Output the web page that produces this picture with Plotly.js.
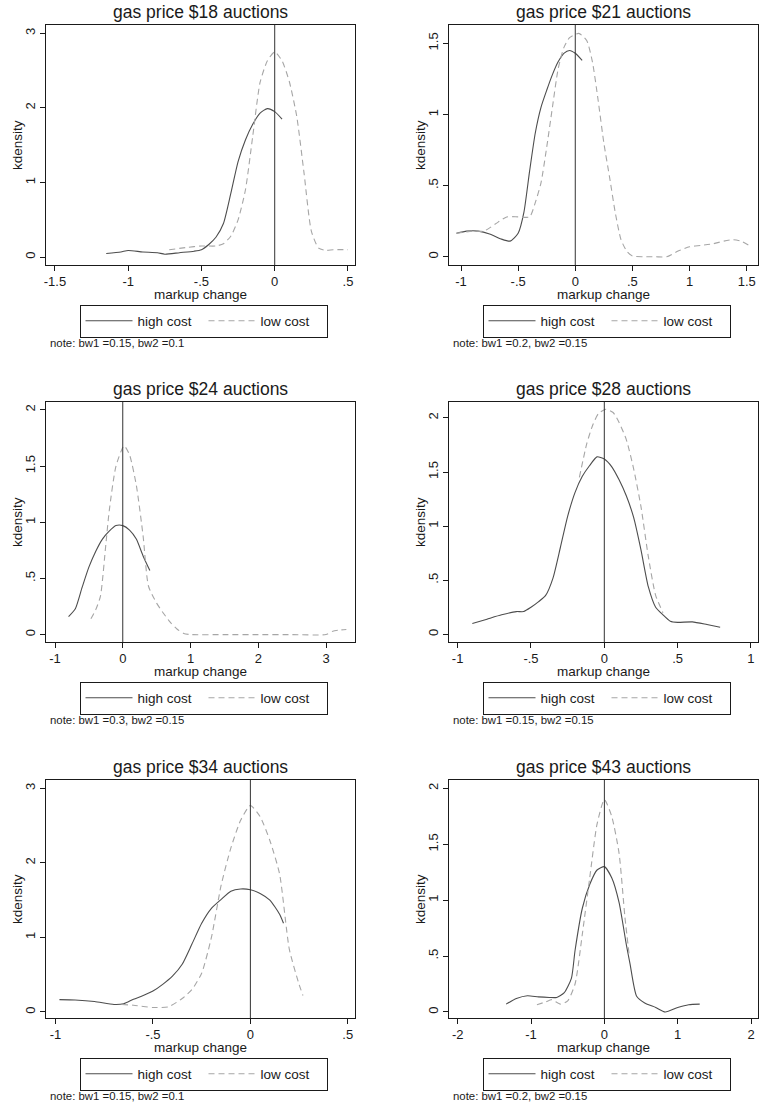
<!DOCTYPE html>
<html><head><meta charset="utf-8">
<script src="https://cdn.plot.ly/plotly-3.0.1.min.js"></script>
<style>html,body{margin:0;padding:0;background:#fff;} #chart{width:759px;height:1110px;}</style>
</head><body><div id="chart"></div>
<script>
// ---------- text ----------
const titles = ['gas price $18 auctions','gas price $21 auctions','gas price $24 auctions','gas price $28 auctions','gas price $34 auctions','gas price $43 auctions'];
const notes = ['note: bw1 =0.15, bw2 =0.1','note: bw1 =0.2, bw2 =0.15','note: bw1 =0.3, bw2 =0.15','note: bw1 =0.15, bw2 =0.15','note: bw1 =0.15, bw2 =0.1','note: bw1 =0.2, bw2 =0.15'];
const seriesNames = ['high cost','low cost'];
const xTitle = 'markup change';
const yTitle = 'kdensity';

// ---------- $18 ----------
const high18X = [-1.15,-1.05,-1.0,-0.9,-0.8,-0.75,-0.65,-0.55,-0.5,-0.45,-0.4,-0.35,-0.3,-0.25,-0.2,-0.15,-0.1,-0.05,0,0.05];
const high18Y = [0.05,0.07,0.09,0.07,0.06,0.04,0.06,0.08,0.1,0.17,0.27,0.45,0.85,1.28,1.57,1.78,1.93,1.99,1.95,1.85];
const low18X = [-0.72,-0.6,-0.5,-0.4,-0.35,-0.3,-0.25,-0.2,-0.15,-0.1,-0.05,0,0.05,0.1,0.15,0.2,0.25,0.3,0.35,0.4,0.5];
const low18Y = [0.1,0.13,0.15,0.15,0.18,0.28,0.5,0.9,1.62,2.34,2.63,2.75,2.63,2.35,1.89,1.13,0.35,0.12,0.09,0.1,0.1];

// ---------- $21 ----------
const high21X = [-1.04,-0.95,-0.85,-0.75,-0.65,-0.57,-0.5,-0.45,-0.4,-0.35,-0.3,-0.25,-0.2,-0.15,-0.1,-0.05,0,0.06];
const high21Y = [0.165,0.18,0.18,0.16,0.125,0.11,0.165,0.31,0.6,0.87,1.05,1.17,1.28,1.37,1.43,1.45,1.43,1.38];
const low21X = [-1.04,-0.9,-0.8,-0.7,-0.6,-0.5,-0.4,-0.35,-0.3,-0.25,-0.2,-0.15,-0.1,-0.05,0.03,0.1,0.15,0.2,0.25,0.3,0.35,0.4,0.45,0.5,0.6,0.7,0.8,0.9,1.0,1.1,1.2,1.3,1.38,1.45,1.52];
const low21Y = [0.165,0.18,0.18,0.23,0.28,0.28,0.28,0.38,0.52,0.77,1.05,1.32,1.47,1.54,1.57,1.52,1.37,1.1,0.8,0.56,0.31,0.12,0.04,0.005,0,0,0,0.04,0.07,0.08,0.09,0.11,0.12,0.11,0.08];

// ---------- $24 ----------
const high24X = [-0.8,-0.7,-0.6,-0.5,-0.4,-0.3,-0.2,-0.1,0,0.1,0.2,0.3,0.4];
const high24Y = [0.16,0.23,0.42,0.6,0.74,0.85,0.92,0.97,0.97,0.93,0.85,0.7,0.57];
const low24X = [-0.47,-0.4,-0.33,-0.25,-0.2,-0.1,0.02,0.1,0.2,0.3,0.38,0.5,0.6,0.7,0.8,0.9,1.0,1.5,2.0,2.5,3.0,3.1,3.2,3.3];
const low24Y = [0.14,0.22,0.34,0.8,1.1,1.5,1.68,1.6,1.33,0.88,0.43,0.28,0.19,0.11,0.05,0.01,0,0,0,0,0,0.03,0.04,0.045];

// ---------- $28 ----------
const high28X = [-0.9,-0.8,-0.7,-0.6,-0.55,-0.5,-0.45,-0.4,-0.35,-0.3,-0.25,-0.2,-0.15,-0.1,-0.05,0,0.05,0.1,0.15,0.2,0.25,0.3,0.35,0.4,0.45,0.5,0.6,0.7,0.79];
const high28Y = [0.1,0.14,0.18,0.21,0.21,0.25,0.3,0.36,0.52,0.8,1.09,1.31,1.46,1.56,1.64,1.62,1.55,1.43,1.28,1.08,0.78,0.44,0.25,0.18,0.12,0.11,0.115,0.09,0.065];
const low28X = [-0.17,-0.12,-0.08,-0.04,0.01,0.06,0.1,0.15,0.2,0.25,0.3,0.35,0.4];
const low28Y = [1.45,1.76,1.93,2.04,2.08,2.05,1.96,1.8,1.53,1.18,0.72,0.36,0.2];

// ---------- $34 ----------
const high34X = [-0.98,-0.9,-0.8,-0.7,-0.65,-0.6,-0.55,-0.5,-0.45,-0.4,-0.35,-0.3,-0.25,-0.2,-0.15,-0.1,-0.05,0,0.05,0.1,0.15,0.17];
const high34Y = [0.165,0.16,0.14,0.1,0.11,0.17,0.22,0.28,0.37,0.48,0.64,0.91,1.19,1.39,1.51,1.62,1.65,1.64,1.59,1.5,1.31,1.19];
const low34X = [-0.66,-0.6,-0.5,-0.42,-0.35,-0.3,-0.25,-0.2,-0.15,-0.1,-0.05,0,0.05,0.1,0.15,0.2,0.25,0.27];
const low34Y = [0.1,0.09,0.06,0.07,0.18,0.3,0.52,1.0,1.7,2.2,2.57,2.77,2.62,2.3,1.85,0.84,0.37,0.22];

// ---------- $43 ----------
const high43X = [-1.34,-1.2,-1.05,-0.9,-0.75,-0.65,-0.55,-0.45,-0.4,-0.3,-0.2,-0.1,0,0.1,0.2,0.3,0.35,0.44,0.55,0.7,0.83,1.0,1.15,1.3];
const high43Y = [0.07,0.12,0.145,0.135,0.13,0.13,0.17,0.3,0.55,0.93,1.14,1.27,1.3,1.2,0.98,0.6,0.43,0.14,0.08,0.04,0.0,0.04,0.065,0.07];
const low43X = [-0.92,-0.8,-0.72,-0.6,-0.5,-0.4,-0.3,-0.2,-0.1,0,0.1,0.2,0.28,0.34];
const low43Y = [0.065,0.09,0.11,0.07,0.1,0.25,0.7,1.2,1.68,1.9,1.75,1.42,0.85,0.5];

// ---------- ticks ----------
const xTicks = [[-1.5,-1,-0.5,0,0.5],[-1,-0.5,0,0.5,1,1.5],[-1,0,1,2,3],[-1,-0.5,0,0.5,1],[-1,-0.5,0,0.5],[-2,-1,0,1,2]];
const yTicks = [[0,1,2,3],[0,0.5,1,1.5],[0,0.5,1,1.5,2],[0,0.5,1,1.5,2],[0,1,2,3],[0,0.5,1,1.5,2]];
const refLineX = 0;

const highX = [high18X,high21X,high24X,high28X,high34X,high43X];
const highY = [high18Y,high21Y,high24Y,high28Y,high34Y,high43Y];
const lowX = [low18X,low21X,low24X,low28X,low34X,low43X];
const lowY = [low18Y,low21Y,low24Y,low28Y,low34Y,low43Y];

function stataLabel(v){ return String(v).replace(/^(-?)0\./,'$1.'); }

// ---------- layout geometry (px) ----------
const W = 759, H = 1110;
const boxes = [[46,25,355,265],[449,25,758,265],[46,402,355,642],[449,402,758,642],[46,780,355,1018],[449,780,758,1018]];
const xRanges = [[-1.561,0.548],[-1.105,1.599],[-1.133,3.428],[-1.059,1.048],[-1.049,0.537],[-2.119,2.095]];
const yRanges = [[-0.105,3.11],[-0.058,1.629],[-0.066,2.07],[-0.071,2.147],[-0.081,3.111],[-0.054,2.075]];

const font = 'Liberation Sans, Arial, sans-serif';
const ink = '#1a1a1a';
const highColor = '#4d4d4d';
const lowColor = '#a6a6a6';

const data = [];
const layout = {
  width: W, height: H, autosize: false,
  margin: {l:0, r:0, t:0, b:0},
  paper_bgcolor: '#fff', plot_bgcolor: '#fff',
  font: {family: font, color: ink, size: 13},
  showlegend: true,
  annotations: [], shapes: []
};

for (let i = 0; i < 6; i++) {
  const n = i + 1;
  const xa = 'x' + (n === 1 ? '' : n), ya = 'y' + (n === 1 ? '' : n);
  const xKey = 'xaxis' + (n === 1 ? '' : n), yKey = 'yaxis' + (n === 1 ? '' : n);
  const legKey = 'legend' + (n === 1 ? '' : n);
  const [l, t, r, b] = boxes[i];

  data.push({type:'scatter', mode:'lines', x: highX[i], y: highY[i], xaxis: xa, yaxis: ya,
    name: seriesNames[0], legend: legKey, line: {color: highColor, width: 1.1, shape: 'spline', smoothing: 0.6}});
  data.push({type:'scatter', mode:'lines', x: lowX[i], y: lowY[i], xaxis: xa, yaxis: ya,
    name: seriesNames[1], legend: legKey, line: {color: lowColor, width: 1.1, dash: '6px,4px', shape: 'spline', smoothing: 0.6}});

  const common = {showline: true, mirror: true, linecolor: ink, linewidth: 1, ticks: 'outside', ticklen: 5,
    tickcolor: ink, tickwidth: 1, showgrid: false, zeroline: false, tickfont: {size: 13, family: font, color: ink},
    fixedrange: true};
  layout[xKey] = Object.assign({}, common, {
    domain: [l / W, r / W], range: xRanges[i], anchor: ya,
    tickmode: 'array', tickvals: xTicks[i], ticktext: xTicks[i].map(stataLabel), ticklabelstandoff: -1
  });
  layout[yKey] = Object.assign({}, common, {
    domain: [1 - b / H, 1 - t / H], range: yRanges[i], anchor: xa,
    tickmode: 'array', tickvals: yTicks[i], ticktext: yTicks[i].map(stataLabel), tickangle: -90
  });
  layout.shapes.push({type: 'line', xref: xa, yref: ya + ' domain', x0: refLineX, x1: refLineX, y0: 0, y1: 1,
    line: {color: '#333', width: 1}});
  // panel title
  layout.annotations.push({text: titles[i], xref: xa + ' domain', x: 0.5, xanchor: 'center',
    yref: 'paper', y: 1 - (t - 12.8) / H, yanchor: 'middle', showarrow: false,
    font: {size: 17.5, family: font, color: ink}});
  // axis titles
  layout.annotations.push({text: xTitle, xref: xa + ' domain', x: 0.5, xanchor: 'center',
    yref: 'paper', y: 1 - (b + 29.5) / H, yanchor: 'middle', showarrow: false,
    font: {size: 13.5, family: font, color: ink}});
  layout.annotations.push({text: yTitle, xref: 'paper', x: (l - 29) / W, xanchor: 'center',
    yref: ya + ' domain', y: 0.5, yanchor: 'middle', textangle: -90, showarrow: false,
    font: {size: 13.5, family: font, color: ink}});
  // note
  layout.annotations.push({text: notes[i], xref: 'paper', x: (l + 1.5) / W, xanchor: 'left',
    yref: 'paper', y: 1 - (b + 77.5) / H, yanchor: 'middle', showarrow: false,
    font: {size: 11.4, family: font, color: ink}});
  layout[legKey] = {orientation: 'h', x: (l + 33.5) / W, xanchor: 'left', y: 1 - (b + 39.5) / H, yanchor: 'top',
    bordercolor: ink, borderwidth: 1, bgcolor: '#fff', itemwidth: 47, entrywidth: 61, entrywidthmode: 'pixels',
    font: {size: 13.5, family: font, color: ink}, itemclick: false, itemdoubleclick: false};
}

Plotly.newPlot('chart', data, layout, {staticPlot: true, displayModeBar: false});
</script></body></html>
